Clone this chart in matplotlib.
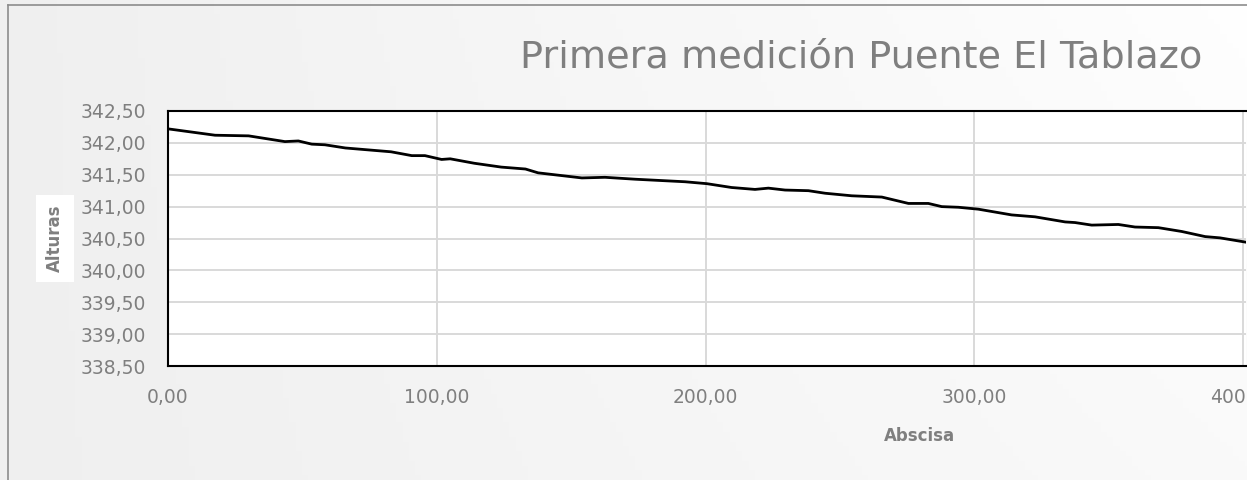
import matplotlib.pyplot as plt
import numpy as np
from matplotlib.patches import Rectangle
from matplotlib.lines import Line2D

# Perfil (abscisa en m, altura en m)
abscisa = [0.0, 17.5, 30.0, 43.5, 48.5, 53.5, 58.4, 66.0, 83.0, 90.7, 95.6,
           101.8, 105.0, 114.0, 124.0, 133.0, 137.7, 154.0, 162.6, 173.8,
           192.4, 200.5, 209.7, 218.4, 223.4, 229.6, 238.3, 244.5, 254.4,
           265.6, 275.5, 282.9, 287.9, 294.1, 301.5, 313.9, 322.6, 333.8,
           337.5, 343.7, 353.6, 359.8, 368.5, 377.2, 385.9, 391.4, 401.4, 405.0]
alturas = [342.22, 342.12, 342.11, 342.02, 342.03, 341.98, 341.97, 341.92,
           341.86, 341.80, 341.80, 341.74, 341.75, 341.68, 341.62, 341.59,
           341.53, 341.45, 341.46, 341.43, 341.39, 341.36, 341.30, 341.27,
           341.29, 341.26, 341.25, 341.21, 341.17, 341.15, 341.05, 341.05,
           341.00, 340.99, 340.96, 340.87, 340.84, 340.76, 340.75, 340.71,
           340.72, 340.68, 340.67, 340.61, 340.53, 340.51, 340.44, 340.42]

xticks = [0, 100, 200, 300, 400]
yticks = [338.5, 339.0, 339.5, 340.0, 340.5, 341.0, 341.5, 342.0, 342.5]
titulo = 'Primera medición Puente El Tablazo'

gray = '#7f7f7f'
W, H = 1258, 480

fig = plt.figure(figsize=(W / 100, H / 100), dpi=100)

# fondo con degradado suave
bg = fig.add_axes([0, 0, 1, 1], zorder=-10)
gx, gy = np.meshgrid(np.linspace(0, 1, 200), np.linspace(0, 1, 100))
grad = 0.3 * gx + 0.7 * (1 - gy) * gx + 0.4 * gy * gx
bg.imshow(grad, cmap='Greys_r', vmin=-7, vmax=1.05, aspect='auto',
          extent=[0, 1, 0, 1], origin='upper')
bg.set_axis_off()

ax = fig.add_axes([168 / W, 1 - 366 / H, (1246 - 168) / W, 255 / H])
ax.set_facecolor('white')
ax.plot(abscisa, alturas, color='black', lw=2.0, solid_joinstyle='round')

ax.set_xlim(0, 401.1)
ax.set_ylim(338.5, 342.5)
ax.set_xticks(xticks)
ax.set_yticks(yticks)
ax.set_xticklabels([f"{v:.2f}".replace('.', ',') for v in xticks])
ax.set_yticklabels([f"{v:.2f}".replace('.', ',') for v in yticks])
ax.tick_params(axis='both', length=0, labelsize=13.5, labelcolor=gray)
ax.tick_params(axis='y', pad=16)
ax.tick_params(axis='x', pad=16)
ax.grid(True, color='#d9d9d9', lw=1.4)
ax.set_axisbelow(True)
for s in ['top', 'left', 'bottom']:
    ax.spines[s].set_color('black')
    ax.spines[s].set_linewidth(1.5)
ax.spines['right'].set_visible(False)

ax.set_xlabel('Abscisa', fontsize=12, fontweight='bold', color=gray)
ax.xaxis.set_label_coords(0.697, -0.239)
ax.set_ylabel('Alturas', fontsize=12, fontweight='bold', color=gray,
              bbox=dict(facecolor='white', edgecolor='none', pad=7))
ax.yaxis.set_label_coords(-0.0965, 0.5)

fig.text(861 / W, 1 - 68 / H, titulo, fontsize=27.5, color=gray,
         ha='center', va='baseline')

# borde exterior del grafico
fig.add_artist(Line2D([8 / W, 8 / W], [0, 1 - 5 / H], color='#8c8c8c', lw=1.2))
fig.add_artist(Line2D([8 / W, 1247 / W], [1 - 5 / H, 1 - 5 / H], color='#8c8c8c', lw=1.2))

# el grafico original esta recortado a la derecha
fig.add_artist(Rectangle((1247 / W, 0), 11 / W, 1, transform=fig.transFigure,
                         facecolor='white', edgecolor='none', zorder=100))

fig.savefig('out.png', dpi=100)
